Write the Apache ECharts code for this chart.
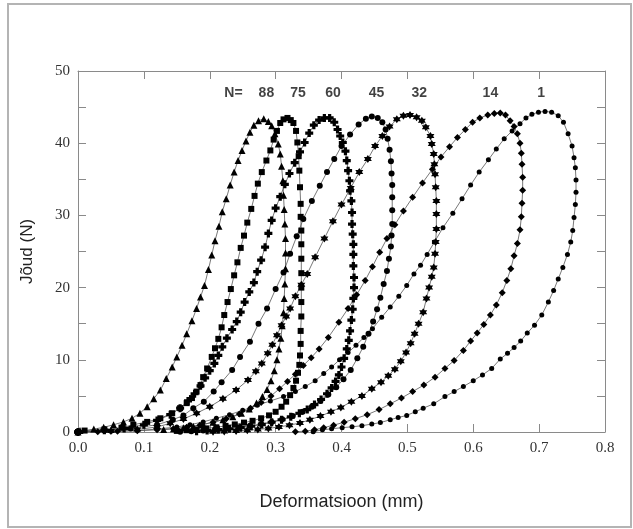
<!DOCTYPE html>
<html lang="et">
<head>
<meta charset="UTF-8">
<title>Jõud vs deformatsioon</title>
<script src="https://cdn.jsdelivr.net/npm/echarts@6/dist/echarts.min.js"></script>
<style>
  html, body { margin: 0; padding: 0; background: #fff; }
  #chart { width: 633px; height: 529px; }
</style>
</head>
<body>
<div id="chart"></div>
<script>
// loops, [deformation mm, force N]
var n88 = [[0,0],[0.003,0.2],[0.024,0.4],[0.039,0.65],[0.054,1.0],[0.069,1.4],[0.082,1.9],[0.094,2.6],[0.105,3.5],[0.115,4.6],[0.125,5.8],[0.134,7.4],[0.143,9.0],[0.150,10.4],[0.158,12.0],[0.165,13.6],[0.173,15.4],[0.180,17.1],[0.186,18.7],[0.192,20.3],[0.198,22.5],[0.203,24.5],[0.208,26.5],[0.214,28.5],[0.219,30.5],[0.225,32.3],[0.231,34.2],[0.237,36.0],[0.243,37.6],[0.249,39.0],[0.255,40.3],[0.261,41.5],[0.267,42.5],[0.274,43.1],[0.282,43.4],[0.289,43.0],[0.294,42.4],[0.299,41.3],[0.304,39.9],[0.307,38.5],[0.309,36.8],[0.311,34.8],[0.312,32.8],[0.313,30.8],[0.314,28.8],[0.315,26.8],[0.315,24.8],[0.315,22.6],[0.314,20.5],[0.313,18.5],[0.312,16.5],[0.310,14.7],[0.308,13.0],[0.305,11.5],[0.302,10.0],[0.298,8.5],[0.293,7.1],[0.287,5.9],[0.280,4.9],[0.271,4.0],[0.260,3.2],[0.248,2.6],[0.235,2.1],[0.220,1.7],[0.205,1.35],[0.190,1.05],[0.175,0.8],[0.160,0.6],[0.145,0.45],[0.130,0.35]];

var n75 = [[0,0],[0.01,0.2],[0.04,0.35],[0.066,0.6],[0.084,1.0],[0.105,1.4],[0.125,1.9],[0.143,2.6],[0.155,3.3],[0.165,4.0],[0.173,4.7],[0.180,5.6],[0.186,6.5],[0.190,7.6],[0.196,8.8],[0.203,10.4],[0.208,11.6],[0.213,12.9],[0.218,14.5],[0.222,16.2],[0.227,18.0],[0.232,19.8],[0.237,21.7],[0.242,23.5],[0.247,25.5],[0.252,27.2],[0.257,29.0],[0.263,30.9],[0.268,32.7],[0.273,34.4],[0.279,36.0],[0.286,37.6],[0.292,39.0],[0.297,40.5],[0.302,41.7],[0.307,42.8],[0.312,43.3],[0.318,43.5],[0.323,43.2],[0.327,42.8],[0.331,41.7],[0.333,40.1],[0.335,38.2],[0.336,36.2],[0.337,33.9],[0.338,31.6],[0.338,29.8],[0.339,27.9],[0.339,26.0],[0.339,24.0],[0.339,22.0],[0.339,20.0],[0.339,18.0],[0.339,16.0],[0.338,14.0],[0.338,12.2],[0.337,10.6],[0.336,9.3],[0.334,8.2],[0.331,7.1],[0.327,6.1],[0.322,5.1],[0.316,4.2],[0.309,3.5],[0.300,2.8],[0.290,2.3],[0.278,1.9],[0.265,1.55],[0.252,1.3],[0.238,1.05],[0.224,0.85],[0.210,0.65],[0.195,0.5],[0.180,0.35],[0.165,0.25],[0.150,0.15]];

var n60 = [[0,0],[0.04,0.25],[0.07,0.5],[0.10,1.0],[0.12,1.6],[0.14,2.4],[0.155,3.3],[0.167,4.3],[0.177,5.3],[0.186,6.4],[0.193,7.5],[0.200,8.5],[0.207,9.5],[0.213,10.6],[0.219,11.8],[0.226,13.0],[0.234,14.2],[0.241,15.3],[0.247,16.6],[0.253,18.0],[0.260,19.4],[0.267,20.7],[0.272,22.2],[0.278,23.8],[0.284,25.6],[0.289,27.5],[0.294,29.3],[0.300,31.0],[0.307,32.6],[0.314,34.3],[0.321,35.8],[0.329,37.3],[0.337,38.8],[0.344,40.1],[0.351,41.4],[0.358,42.5],[0.366,43.2],[0.374,43.5],[0.382,43.5],[0.389,42.9],[0.394,41.9],[0.398,41.0],[0.402,40.1],[0.406,38.9],[0.408,37.6],[0.410,36.2],[0.412,34.8],[0.413,33.4],[0.415,32.0],[0.416,30.4],[0.416,28.8],[0.417,27.4],[0.418,26.0],[0.418,24.6],[0.418,23.0],[0.419,21.4],[0.419,20.0],[0.418,18.5],[0.417,17.0],[0.415,15.5],[0.413,14.0],[0.411,12.7],[0.408,11.5],[0.404,10.2],[0.400,9.0],[0.396,7.9],[0.391,7.0],[0.385,6.1],[0.378,5.3],[0.369,4.5],[0.359,3.8],[0.348,3.1],[0.336,2.6],[0.323,2.1],[0.309,1.7],[0.294,1.35],[0.279,1.05],[0.263,0.8],[0.247,0.6],[0.230,0.45],[0.213,0.32],[0.196,0.2],[0.180,0.1]];

var n45 = [[0,0],[0.04,0.2],[0.08,0.5],[0.12,1.0],[0.144,1.7],[0.160,2.3],[0.175,3.3],[0.191,4.2],[0.206,5.6],[0.218,6.9],[0.234,8.6],[0.246,10.4],[0.261,12.5],[0.274,15.0],[0.287,17.1],[0.300,19.8],[0.312,22.1],[0.322,24.7],[0.332,27.1],[0.342,29.5],[0.355,32.0],[0.367,34.1],[0.378,36.0],[0.389,37.8],[0.400,39.6],[0.413,41.2],[0.426,42.6],[0.437,43.4],[0.446,43.7],[0.455,43.5],[0.462,42.9],[0.467,41.9],[0.470,40.6],[0.473,39.1],[0.475,37.5],[0.476,35.8],[0.477,34.2],[0.477,32.5],[0.477,30.7],[0.477,28.8],[0.476,27.2],[0.475,25.7],[0.472,24.0],[0.469,22.3],[0.464,20.5],[0.459,18.6],[0.454,17.0],[0.448,15.3],[0.441,13.6],[0.433,11.8],[0.424,10.2],[0.414,8.6],[0.403,7.3],[0.392,6.2],[0.380,5.2],[0.368,4.3],[0.355,3.5],[0.341,2.8],[0.326,2.2],[0.310,1.75],[0.294,1.4],[0.278,1.1],[0.261,0.85],[0.244,0.65],[0.226,0.48],[0.208,0.34],[0.190,0.22],[0.172,0.12],[0.155,0.05]];

var n32 = [[0,0],[0.05,0.15],[0.09,0.35],[0.12,0.7],[0.14,1.2],[0.16,1.8],[0.18,2.6],[0.20,3.5],[0.22,4.6],[0.24,5.8],[0.258,7.2],[0.270,8.4],[0.279,9.5],[0.288,10.9],[0.295,12.1],[0.302,13.4],[0.309,14.8],[0.316,16.0],[0.322,17.1],[0.330,18.8],[0.339,20.4],[0.348,21.9],[0.360,24.2],[0.374,26.8],[0.387,29.2],[0.400,31.5],[0.414,33.8],[0.427,36.0],[0.440,37.8],[0.451,39.6],[0.462,41.0],[0.473,42.3],[0.484,43.3],[0.494,43.8],[0.504,43.9],[0.514,43.6],[0.522,43.1],[0.528,42.2],[0.535,41.0],[0.537,39.9],[0.540,38.5],[0.541,37.1],[0.542,35.7],[0.543,33.9],[0.544,32.0],[0.544,30.2],[0.544,28.1],[0.543,26.3],[0.542,24.7],[0.540,22.8],[0.537,21.5],[0.533,20.0],[0.529,18.5],[0.524,16.6],[0.517,15.0],[0.511,13.6],[0.505,12.3],[0.498,11.0],[0.490,9.8],[0.481,8.7],[0.471,7.8],[0.460,6.9],[0.446,6.0],[0.431,5.0],[0.415,4.2],[0.399,3.4],[0.384,2.8],[0.368,2.2],[0.352,1.7],[0.337,1.25],[0.321,0.95],[0.305,0.7],[0.289,0.5],[0.273,0.35],[0.257,0.24],[0.240,0.15],[0.222,0.08],[0.205,0.03]];

var n14 = [[0,0],[0.03,0.05],[0.06,0.1],[0.09,0.18],[0.12,0.3],[0.145,0.45],[0.165,0.65],[0.185,0.95],[0.205,1.35],[0.225,1.85],[0.245,2.5],[0.262,3.3],[0.278,4.1],[0.293,5.0],[0.306,6.0],[0.318,7.0],[0.330,8.0],[0.342,9.2],[0.354,10.3],[0.366,11.5],[0.380,13.1],[0.396,15.2],[0.410,17.1],[0.423,19.0],[0.436,21.0],[0.447,22.9],[0.458,24.9],[0.469,26.8],[0.481,28.7],[0.494,30.6],[0.508,32.5],[0.523,34.5],[0.538,36.4],[0.551,38.1],[0.564,39.5],[0.576,40.8],[0.588,41.9],[0.599,42.9],[0.610,43.5],[0.622,43.9],[0.632,44.1],[0.641,44.2],[0.649,43.9],[0.656,43.1],[0.662,42.3],[0.667,41.3],[0.671,40.0],[0.673,38.6],[0.674,37.1],[0.675,35.3],[0.675,33.5],[0.674,31.7],[0.673,29.8],[0.671,28.0],[0.667,26.1],[0.662,24.4],[0.657,22.6],[0.651,21.0],[0.644,19.3],[0.635,17.6],[0.626,16.2],[0.616,14.9],[0.606,13.7],[0.596,12.6],[0.585,11.3],[0.571,9.9],[0.557,8.8],[0.542,7.6],[0.525,6.5],[0.508,5.6],[0.491,4.7],[0.474,3.9],[0.457,3.1],[0.439,2.4],[0.421,1.85],[0.404,1.35],[0.388,0.95],[0.373,0.6],[0.359,0.3],[0.345,0.12],[0.330,0.03]];

var n1 = [[0,0],[0.05,0.1],[0.09,0.2],[0.12,0.4],[0.15,0.7],[0.17,1.0],[0.19,1.4],[0.21,1.9],[0.23,2.4],[0.25,3.0],[0.272,3.7],[0.292,4.3],[0.312,4.9],[0.330,5.6],[0.345,6.3],[0.360,7.1],[0.373,8.1],[0.385,9.0],[0.397,10.0],[0.410,11.0],[0.422,12.0],[0.434,13.1],[0.447,14.3],[0.461,15.9],[0.474,17.3],[0.487,18.8],[0.499,20.3],[0.510,21.9],[0.520,23.1],[0.530,24.6],[0.541,26.3],[0.554,28.3],[0.569,30.3],[0.583,32.3],[0.596,34.2],[0.609,36.0],[0.623,37.7],[0.635,39.2],[0.647,40.6],[0.659,41.7],[0.671,42.7],[0.680,43.5],[0.689,44.0],[0.699,44.3],[0.709,44.4],[0.719,44.3],[0.729,43.8],[0.737,42.9],[0.744,41.3],[0.750,39.6],[0.753,38.0],[0.755,36.6],[0.756,34.9],[0.756,33.2],[0.755,31.5],[0.753,29.7],[0.751,27.9],[0.748,26.3],[0.743,24.6],[0.736,22.8],[0.729,21.2],[0.722,19.6],[0.714,18.0],[0.704,16.2],[0.693,14.8],[0.682,13.7],[0.672,12.6],[0.662,11.7],[0.652,10.9],[0.641,10.1],[0.628,8.8],[0.614,7.9],[0.600,7.1],[0.585,6.3],[0.571,5.6],[0.557,4.9],[0.540,3.9],[0.524,3.3],[0.512,2.8],[0.499,2.3],[0.486,2.0],[0.474,1.7],[0.459,1.3],[0.446,1.1],[0.431,0.87],[0.416,0.72],[0.401,0.6],[0.385,0.45],[0.371,0.3],[0.357,0.05]];

// cycle labels above the loops
var cycleNames = ['N=', '88', '75', '60', '45', '32', '14', '1'];
var cycleLabelX = [0.236, 0.286, 0.334, 0.387, 0.453, 0.518, 0.626, 0.703];
var cycleLabelY = 47;

var plusPath = 'path://M3,0H7V3H10V7H7V10H3V7H0V3H3Z';
var starPath = 'path://M10,0L12.89,5L18.66,5L15.77,10L18.66,15L12.89,15L10,20L7.11,15L1.34,15L4.23,10L1.34,5L7.11,5Z';

var loops = [
    { data: n88, symbol: 'triangle', size: 7 },
    { data: n75, symbol: 'rect', size: 6 },
    { data: n60, symbol: plusPath, size: 8 },
    { data: n45, symbol: 'circle', size: 6 },
    { data: n32, symbol: starPath, size: 8 },
    { data: n14, symbol: 'diamond', size: 7 },
    { data: n1, symbol: 'circle', size: 5 }
];

var axisGray = '#8a8a8a';
var series = loops.map(function (l) {
    return {
        type: 'line',
        data: l.data,
        symbol: l.symbol,
        symbolSize: l.size,
        showAllSymbol: true,
        lineStyle: { color: '#555', width: 0.8 },
        itemStyle: { color: '#000' },
        silent: true
    };
});
series.push({
    type: 'scatter',
    symbolSize: 0,
    silent: true,
    data: cycleNames.map(function (t, i) { return [cycleLabelX[i], cycleLabelY, t]; }),
    label: {
        show: true, position: 'inside',
        formatter: function (p) { return p.value[2]; },
        fontFamily: 'Liberation Sans', fontWeight: 'bold', fontSize: 14, color: '#111'
    }
});

var chart = echarts.init(document.getElementById('chart'));

function ticks() {
    return { inside: true, length: 8, lineStyle: { color: axisGray } };
}
function minor() {
    return { show: true, splitNumber: 2, length: 8, lineStyle: { color: axisGray } };
}
function line() {
    return { show: true, onZero: false, lineStyle: { color: axisGray } };
}

chart.setOption({
    animation: false,
    backgroundColor: '#fff',
    graphic: [{
        type: 'rect',
        shape: { x: 8, y: 4, width: 623, height: 523 },
        style: { fill: null, stroke: '#b4b4b4', lineWidth: 2 }
    }],
    grid: { left: 78, right: 28, top: 71, bottom: 97 },
    xAxis: [{
        type: 'value', min: 0, max: 0.8, interval: 0.1, position: 'bottom',
        axisLine: line(),
        axisTick: ticks(),
        splitLine: { show: false },
        axisLabel: {
            formatter: function (v) { return v.toFixed(1); },
            fontFamily: 'Liberation Serif', fontSize: 15, color: '#333', margin: 9
        },
        name: 'Deformatsioon (mm)', nameLocation: 'middle', nameGap: 61,
        nameTextStyle: { fontFamily: 'Liberation Sans', fontSize: 18, color: '#222' }
    }, {
        type: 'value', min: 0, max: 0.8, interval: 0.1, position: 'top',
        axisLine: line(),
        axisTick: ticks(),
        axisLabel: { show: false },
        splitLine: { show: false }
    }],
    yAxis: [{
        type: 'value', min: 0, max: 50, interval: 10, position: 'left',
        axisLine: line(),
        axisTick: ticks(),
        minorTick: minor(),
        splitLine: { show: false },
        axisLabel: { fontFamily: 'Liberation Serif', fontSize: 15, color: '#333', margin: 8 },
        name: 'Jõud (N)', nameLocation: 'middle', nameGap: 42,
        nameTextStyle: { fontFamily: 'Liberation Sans', fontSize: 17, color: '#222' }
    }, {
        type: 'value', min: 0, max: 50, interval: 10, position: 'right',
        axisLine: line(),
        axisTick: ticks(),
        minorTick: minor(),
        axisLabel: { show: false },
        splitLine: { show: false }
    }],
    series: series
});
</script>
</body>
</html>
